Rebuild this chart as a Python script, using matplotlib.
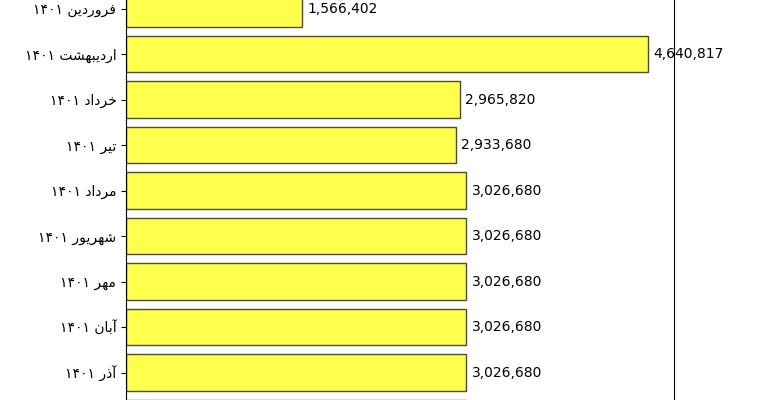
import numpy as np
import matplotlib
matplotlib.use('Agg')
import matplotlib.pyplot as plt

months = ['فروردین ۱۴۰۱', 'اردیبهشت ۱۴۰۱', 'خرداد ۱۴۰۱', 'تیر ۱۴۰۱', 'مرداد ۱۴۰۱',
          'شهریور ۱۴۰۱', 'مهر ۱۴۰۱', 'آبان ۱۴۰۱', 'آذر ۱۴۰۱', 'دی ۱۴۰۱']
values = [1566402, 4640817, 2965820, 2933680, 3026680,
          3026680, 3026680, 3026680, 3026680, 3026680]

# presentation forms: isolated, final, initial, medial
forms = {
    'ا': ('\uFE8D', '\uFE8E'), 'آ': ('\uFE81', '\uFE82'),
    'د': ('\uFEA9', '\uFEAA'), 'ذ': ('\uFEAB', '\uFEAC'),
    'ر': ('\uFEAD', '\uFEAE'), 'و': ('\uFEED', '\uFEEE'),
    'ب': ('\uFE8F', '\uFE90', '\uFE91', '\uFE92'),
    'ت': ('\uFE95', '\uFE96', '\uFE97', '\uFE98'),
    'خ': ('\uFEA5', '\uFEA6', '\uFEA7', '\uFEA8'),
    'ش': ('\uFEB5', '\uFEB6', '\uFEB7', '\uFEB8'),
    'ف': ('\uFED1', '\uFED2', '\uFED3', '\uFED4'),
    'م': ('\uFEE1', '\uFEE2', '\uFEE3', '\uFEE4'),
    'ن': ('\uFEE5', '\uFEE6', '\uFEE7', '\uFEE8'),
    'ه': ('\uFEE9', '\uFEEA', '\uFEEB', '\uFEEC'),
    'ی': ('\uFBFC', '\uFBFD', '\uFBFE', '\uFBFF'),
}


def shape(word):
    out = []
    for i, ch in enumerate(word):
        if ch not in forms:
            out.append(ch)
            continue
        prev = word[i - 1] if i > 0 else ''
        nxt = word[i + 1] if i + 1 < len(word) else ''
        join_prev = prev in forms and len(forms[prev]) == 4
        join_next = len(forms[ch]) == 4 and nxt in forms
        f = forms[ch]
        if join_prev and join_next:
            out.append(f[3])
        elif join_prev:
            out.append(f[1])
        elif join_next:
            out.append(f[2])
        else:
            out.append(f[0])
    return ''.join(out)


def rtl(label):
    # shape each persian word, then lay the words out right to left
    words = label.split(' ')
    vis = []
    for w in words:
        if w[0] in forms:
            vis.append(shape(w)[::-1])
        else:
            vis.append(w)
    return ' '.join(vis[::-1])


fig = plt.figure(figsize=(7.67, 4.0), dpi=100)
ax = fig.add_axes([126 / 767, 0, 548 / 767, 1])

y = np.arange(len(months))
ax.barh(y, values, height=0.8, color='yellow', edgecolor='black', alpha=0.7)
ax.set_yticks(y)
ax.set_yticklabels([rtl(m) for m in months], fontsize=10, family='DejaVu Sans')
ax.set_xticks([])
# the view is a crop of a taller chart
ax.set_ylim(8.6, -0.191)
ax.set_xlim(0, max(values) * 1.05)
ax.spines['top'].set_visible(False)
ax.spines['bottom'].set_visible(False)

for yi, v in zip(y, values):
    ax.annotate(f'{v:,}', (v, yi), xytext=(4, 0), textcoords='offset points',
                ha='left', va='center', fontsize=10, annotation_clip=True)

fig.savefig('out.png', dpi=100)
